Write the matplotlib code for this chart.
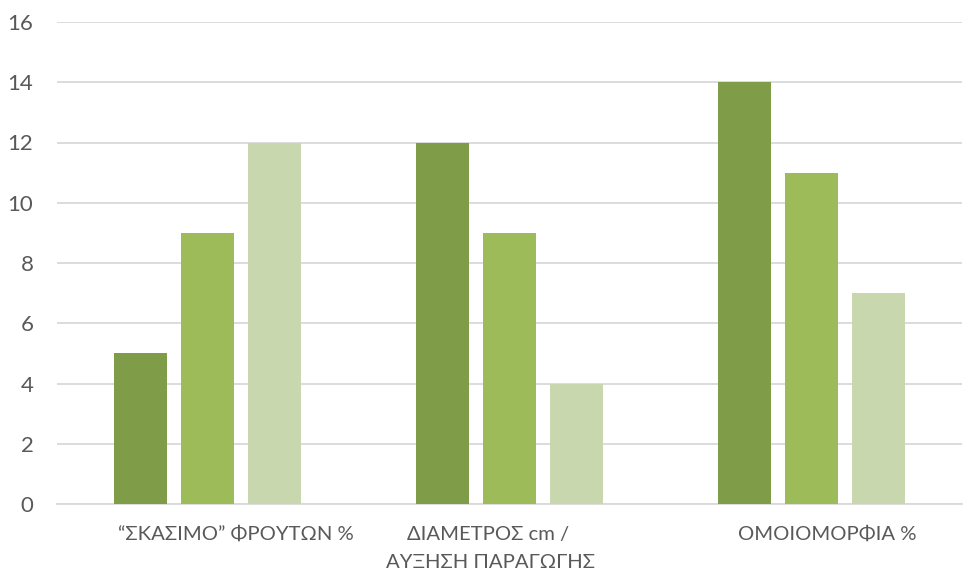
import numpy as np
import matplotlib.pyplot as plt
from matplotlib.transforms import blended_transform_factory

plt.rcParams['font.family'] = ['Lato', 'DejaVu Sans']

categories = ['“ΣΚΑΣΙΜΟ” ΦΡΟΥΤΩΝ %', 'ΔΙΑΜΕΤΡΟΣ cm / \nΑΥΞΗΣΗ ΠΑΡΑΓΩΓΗΣ', 'ΟΜΟΙΟΜΟΡΦΙΑ %']
series1 = [5, 12, 14]
series2 = [9, 9, 11]
series3 = [12, 4, 7]
colors = ['#7F9C48', '#9DBB59', '#C9D7AE']

# label centres are a bit off the category centres in the original
label_shift = [0.093, -0.062, 0.052]

fig = plt.figure(figsize=(9.7, 5.74), dpi=100)
ax = fig.add_axes([57 / 970, 1 - 504 / 574, 905 / 970, 482 / 574])

x = np.arange(len(categories))
w = 0.176
step = 0.222
for i, (vals, c) in enumerate(zip([series1, series2, series3], colors)):
    ax.bar(x + (i - 1) * step, vals, width=w, color=c, zorder=3)

ax.set_xlim(-0.5, 2.5)
ax.set_ylim(0, 16)
ax.set_yticks(np.arange(0, 17, 2))
ax.grid(axis='y', color='#D9D9D9', linewidth=1.3, zorder=0)
for s in ['top', 'right', 'left']:
    ax.spines[s].set_visible(False)
ax.spines['bottom'].set_color('#D9D9D9')
ax.spines['bottom'].set_linewidth(1.3)
ax.tick_params(axis='y', length=0, pad=17, labelsize=16, labelcolor='#595959')
ax.set_xticks([])

trans = blended_transform_factory(ax.transData, ax.transAxes)
for xi, lab, sh in zip(x, categories, label_shift):
    ax.text(xi + sh, -0.045, lab, transform=trans, ha='center', va='top',
            fontsize=14.6, color='#595959', linespacing=1.8)

fig.savefig('out.png', dpi=100)
